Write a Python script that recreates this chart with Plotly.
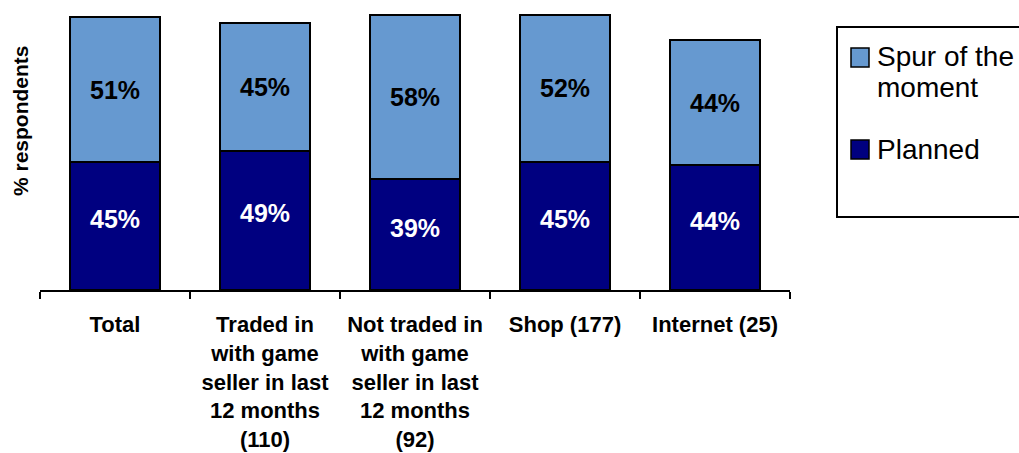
import plotly.graph_objects as go

# Survey data: share of respondents by how the purchase was made
categories = [
    "Total",
    "Traded in<br>with game<br>seller in last<br>12 months<br>(110)",
    "Not traded in<br>with game<br>seller in last<br>12 months<br>(92)",
    "Shop (177)",
    "Internet (25)",
]
planned = [45, 49, 39, 45, 44]
spur = [51, 45, 58, 52, 44]

NAVY = "#000080"
LIGHT = "#6699D0"
FONT = "Liberation Sans, Arial, sans-serif"

W, H = 1019, 453
M_L, M_R, M_T, M_B = 40, 229, 6, 163
PW = W - M_L - M_R
PH = H - M_T - M_B


def px_x(x):
    return (x - M_L) / PW


def px_y(y):
    return (H - M_B - y) / PH


fig = go.Figure()
fig.add_trace(go.Bar(
    name="Planned", x=categories, y=planned,
    marker=dict(color=NAVY, line=dict(color="black", width=2)),
    showlegend=False,
))
fig.add_trace(go.Bar(
    name="Spur of the moment", x=categories, y=spur,
    marker=dict(color=LIGHT, line=dict(color="black", width=2)),
    text=[f"{v}%" for v in spur], textposition="inside",
    insidetextanchor="middle",
    textfont=dict(family=FONT, size=25, color="black", weight="bold"),
    showlegend=False,
))

shapes = []
annotations = []

# Value labels for the lower segment, sitting a little above its middle
for cat, v in zip(categories, planned):
    annotations.append(dict(x=cat, y=v / 2, xref="x", yref="y", yshift=7,
                            text=f"{v}%", showarrow=False,
                            font=dict(family=FONT, size=25, color="white", weight="bold")))

# Legend frame and swatches
shapes.append(dict(type="rect", xref="paper", yref="paper",
                   x0=px_x(837), x1=px_x(1030), y0=px_y(217), y1=px_y(27),
                   line=dict(color="black", width=2), fillcolor="white"))
legend_items = [(["Spur of the", "moment"], LIGHT, 48, [57, 88]),
                (["Planned"], NAVY, 140, [149])]
for lines, color, sq_top, mids in legend_items:
    shapes.append(dict(type="rect", xref="paper", yref="paper",
                       x0=px_x(851), x1=px_x(869), y0=px_y(sq_top + 19), y1=px_y(sq_top),
                       line=dict(color="black", width=1.5), fillcolor=color))
    for line, mid in zip(lines, mids):
        annotations.append(dict(xref="paper", yref="paper", x=px_x(875), y=px_y(mid),
                                xanchor="left", yanchor="middle", align="left",
                                text=line, showarrow=False,
                                font=dict(family=FONT, size=28, color="black")))

# Vertical axis title
annotations.append(dict(xref="paper", yref="paper", x=px_x(20), y=px_y(121),
                        xanchor="center", yanchor="middle", textangle=-90,
                        text="% respondents", showarrow=False,
                        font=dict(family=FONT, size=21, color="black", weight="bold")))

fig.update_layout(
    barmode="stack",
    bargap=0.4,
    width=W, height=H,
    margin=dict(l=M_L, r=M_R, t=M_T, b=M_B, autoexpand=False),
    paper_bgcolor="white", plot_bgcolor="white",
    shapes=shapes, annotations=annotations,
    xaxis=dict(
        automargin=False,
        showline=True, linecolor="black", linewidth=2,
        ticks="outside", tickson="boundaries", ticklen=7, tickwidth=2, tickcolor="black",
        ticklabelstandoff=14,
        tickfont=dict(family=FONT, size=22, color="black", weight="bold"),
        showgrid=False,
    ),
    yaxis=dict(range=[0, 100], automargin=False, showticklabels=False, showgrid=False,
               zeroline=False, showline=False, ticks=""),
)

fig.write_html("out.html")
